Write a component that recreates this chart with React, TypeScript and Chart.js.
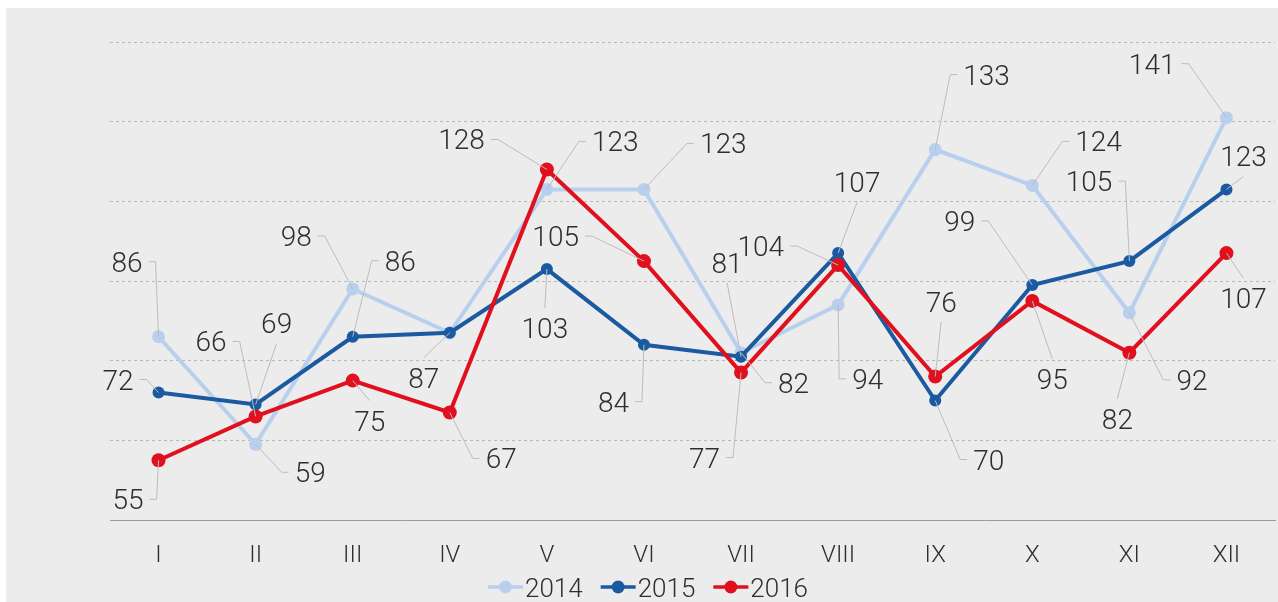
import React, { useEffect, useRef } from "react";
import { Chart, registerables } from "chart.js";

Chart.register(...registerables);

// ---- data ----
const months = ["I", "II", "III", "IV", "V", "VI", "VII", "VIII", "IX", "X", "XI", "XII"];
const seriesNames = ["2014", "2015", "2016"];
const values2014 = [86, 59, 98, 87, 123, 123, 82, 94, 133, 124, 92, 141];
const values2015 = [72, 69, 86, 87, 103, 84, 81, 107, 70, 99, 105, 123];
const values2016 = [55, 66, 75, 67, 128, 105, 77, 104, 76, 95, 82, 107];
const yTicks = [40, 60, 80, 100, 120, 140, 160];

// ---- label layout (callout type, dx, dy in px relative to the point) ----
type Lab = [string, number, number] | null;
const layout2014: Lab[] = [
  ["L", -3, -75], ["R", 26, 28], ["L", -28, -53], null, ["R", 32, -48], ["R", 43, -46],
  ["R", 24, 30], ["R", 1, 74], ["R", 15, -75], ["R", 30, -44], ["R", 34, 67], ["L", -38, -54],
];
const layout2015: Lab[] = [
  ["L", -12, -13], ["T", 21, -61], ["R", 19, -76], ["B", -26, 25], ["B", -2, 39], ["L", -2, 57],
  ["T", -14, -74], ["T", 19, -51], ["R", 25, 59], ["L", -44, -64], ["L", -4, -80], ["T", 17, -13],
];
const layout2016: Lab[] = [
  ["L", -2, 39], ["L", -16, -75], ["B", 17, 20], ["R", 23, 46], ["L", -49, -30], ["L", -52, -25],
  ["L", -8, 85], ["L", -41, -19], ["T", 6, -55], ["B", 20, 58], ["B", -12, 46], ["B", 17, 25],
];

const colors = ["#b8cfee", "#1b5aa0", "#e0101f"];
const pointRadii = [6.5, 6, 7];
const FONT = "Roboto, 'Noto Sans', sans-serif";
const TEXT = "#2e2e2e";
const LEADER = "#bcbcbc";

const allValues = [values2014, values2015, values2016];
const allLayouts = [layout2014, layout2015, layout2016];

const labelPlugin = {
  id: "calloutLabels",
  afterDatasetsDraw(chart: any) {
    const ctx = chart.ctx as CanvasRenderingContext2D;
    ctx.save();
    ctx.font = `300 28px ${FONT}`;
    ctx.textBaseline = "alphabetic";
    for (let s = 0; s < 3; s++) {
      const meta = chart.getDatasetMeta(s);
      allLayouts[s].forEach((lab, i) => {
        if (!lab) return;
        const el = meta.data[i];
        const px = el.x;
        const py = el.y;
        const [t, dx, dy] = lab;
        const ex = px + dx;
        const ey = py + dy;
        ctx.strokeStyle = LEADER;
        ctx.lineWidth = 1;
        ctx.beginPath();
        ctx.moveTo(px, py);
        ctx.lineTo(ex, ey);
        let tx = ex;
        let ty = ey;
        if (t === "L") {
          ctx.lineTo(ex - 7, ey);
          tx = ex - 13;
          ctx.textAlign = "right";
        } else if (t === "R") {
          ctx.lineTo(ex + 7, ey);
          tx = ex + 13;
          ctx.textAlign = "left";
        } else if (t === "T") {
          ty = ey - 20;
          ctx.textAlign = "center";
        } else {
          ty = ey + 20;
          ctx.textAlign = "center";
        }
        ctx.stroke();
        ctx.fillStyle = TEXT;
        ctx.fillText(String(allValues[s][i]), tx, ty + 10);
      });
    }
    ctx.restore();
  },
  afterDraw(chart: any) {
    const ctx = chart.ctx as CanvasRenderingContext2D;
    ctx.save();
    ctx.font = `300 26px ${FONT}`;
    const lineW = 35;
    const gapText = 2;
    const gapItem = 18;
    const widths = seriesNames.map((n) => ctx.measureText(n).width);
    const total = widths.reduce((a, w) => a + lineW + gapText + w, 0) + gapItem * (seriesNames.length - 1);
    let x = 642 - total / 2;
    const y = 579;
    seriesNames.forEach((n, k) => {
      ctx.strokeStyle = colors[k];
      ctx.lineWidth = 3.5;
      ctx.beginPath();
      ctx.moveTo(x, y);
      ctx.lineTo(x + lineW, y);
      ctx.stroke();
      ctx.fillStyle = colors[k];
      ctx.beginPath();
      ctx.arc(x + lineW / 2, y, 6.5, 0, Math.PI * 2);
      ctx.fill();
      ctx.fillStyle = TEXT;
      ctx.textAlign = "left";
      ctx.textBaseline = "alphabetic";
      ctx.fillText(n, x + lineW + gapText, y + 9.5);
      x += lineW + gapText + widths[k] + gapItem;
    });
    ctx.restore();
  },
};

export default function App() {
  const ref = useRef<HTMLCanvasElement | null>(null);
  useEffect(() => {
    if (!ref.current) return;
    const chart = new Chart(ref.current, {
      type: "line",
      data: {
        labels: months,
        datasets: allValues.map((vals, k) => ({
          label: seriesNames[k],
          data: vals,
          borderColor: colors[k],
          backgroundColor: colors[k],
          pointBackgroundColor: colors[k],
          pointBorderColor: colors[k],
          pointRadius: pointRadii[k],
          pointBorderWidth: 0,
          borderWidth: 4,
          tension: 0,
          fill: false,
          order: 3 - k,
        })),
      },
      options: {
        animation: false,
        responsive: false,
        maintainAspectRatio: false,
        events: [],
        layout: { autoPadding: false, padding: { left: 104, right: 3, top: 34, bottom: 0 } },
        plugins: { legend: { display: false }, tooltip: { enabled: false } },
        scales: {
          x: {
            offset: true,
            grid: { display: true, drawOnChartArea: false, drawTicks: false, color: "rgba(0,0,0,0)" },
            border: { display: true, color: "#9a9a9a", width: 1 },
            ticks: { color: TEXT, font: { family: FONT, size: 24, weight: "300" }, padding: 22 },
            afterFit: (s: any) => {
              s.height = 82;
              s.paddingLeft = 0;
              s.paddingRight = 0;
            },
          },
          y: {
            min: yTicks[0],
            max: yTicks[yTicks.length - 1],
            afterBuildTicks: (s: any) => { s.ticks = yTicks.map((v) => ({ value: v })); },
            ticks: { display: false },
            grid: {
              drawTicks: false,
              color: (c: any) => (c.tick && c.tick.value === yTicks[0] ? "rgba(0,0,0,0)" : "#b9b9b9"),
              lineWidth: 1,
            },
            border: { display: false, dash: [3, 3] },
            afterFit: (s: any) => {
              s.width = 0;
              s.paddingTop = 0;
              s.paddingBottom = 0;
            },
          },
        },
      },
      plugins: [labelPlugin],
    });
    return () => chart.destroy();
  }, []);
  return (
    <div style={{ position: "absolute", left: 6, top: 8, width: 1272, height: 594, background: "#ececec" }}>
      <canvas ref={ref} width={1272} height={594} style={{ display: "block" }} />
    </div>
  );
}
